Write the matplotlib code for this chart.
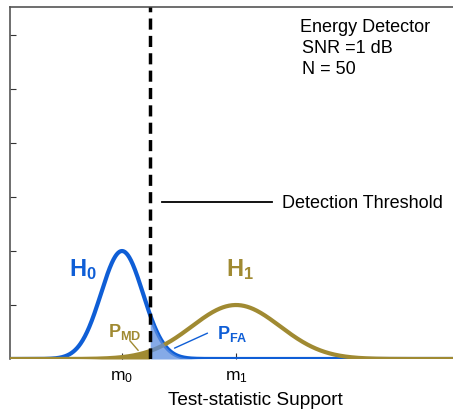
import numpy as np
import matplotlib
matplotlib.use("Agg")
import matplotlib.pyplot as plt

plt.rcParams['font.family'] = ['Liberation Sans', 'DejaVu Sans']
plt.rcParams['mathtext.fontset'] = 'custom'
plt.rcParams['mathtext.rm'] = 'Liberation Sans'
plt.rcParams['mathtext.bf'] = 'Liberation Sans:bold'

# distribution parameters (axis units)
means = [112, 226]          # m0, m1
sigmas = [21, 44]
peaks = [2.0, 1.0]
threshold = 140
tick_labels = [r'$\mathregular{m_0}$', r'$\mathregular{m_1}$']
info_lines = ["Energy Detector", "SNR =1 dB", "N = 50"]

blue = '#0F5ED6'
olive = '#A08A32'
fill_blue = '#5C8EE0'

x = np.linspace(0, 522, 1200)
h0 = peaks[0] * np.exp(-(x - means[0])**2 / (2 * sigmas[0]**2))
h1 = peaks[1] * np.exp(-(x - means[1])**2 / (2 * sigmas[1]**2))

fig = plt.figure(figsize=(4.53, 4.10), dpi=100)
ax = fig.add_axes([10/453, 50/410, 522/453, 352/410])

ax.fill_between(x, 0, h1, where=x <= threshold, color=olive, lw=0)
ax.plot(x, h0, color=blue, lw=3, solid_capstyle='butt', zorder=3)
ax.plot(x, h1, color=olive, lw=3, zorder=3)
ax.fill_between(x, 0, h0, where=x >= threshold, color=fill_blue, alpha=0.75, lw=0, zorder=4)
ax.axvline(threshold, color='black', lw=2.5, ls=(0, (3.2, 1.8)), zorder=5)

ax.set_xlim(0, 522)
ax.set_ylim(0, 6.52)
ax.set_yticks([1, 2, 3, 4, 5, 6])
ax.set_yticklabels([])
ax.set_xticks(means)
ax.set_xticklabels(tick_labels, fontsize=12.5)
ax.tick_params(direction='in', length=4, color='#333333')
ax.tick_params(axis='x', pad=7)
ax.spines['bottom'].set_visible(False)
for s in ['left', 'top', 'right']:
    ax.spines[s].set_color('#555555')
    ax.spines[s].set_linewidth(1.2)
ax.set_xlabel("Test-statistic Support", fontsize=13.7)
ax.xaxis.set_label_coords(245/522, -0.092)

ax.text(59, 1.55, r'$\mathbf{H_0}$', color=blue, fontsize=17)
ax.text(216, 1.55, r'$\mathbf{H_1}$', color=olive, fontsize=17)
ax.text(98, 0.42, r'$\mathbf{P_{MD}}$', color=olive, fontsize=13)
ax.annotate('', xy=(130, 0.12), xytext=(118, 0.38),
            arrowprops=dict(arrowstyle='-', color=olive, lw=1))
ax.text(207, 0.38, r'$\mathbf{P_{FA}}$', color=blue, fontsize=13)
ax.annotate('', xy=(162, 0.18), xytext=(200, 0.5),
            arrowprops=dict(arrowstyle='-', color=blue, lw=1), zorder=6)

ax.plot([152, 262], [2.9, 2.9], color='black', lw=1.3)
ax.text(272, 2.9, "Detection Threshold", fontsize=13, va='center')
for i, line in enumerate(info_lines):
    ax.text(290 + (0 if i == 0 else 2), 6.16 - 0.39 * i, line, fontsize=13, va='center')

fig.savefig("out.png", dpi=100)
